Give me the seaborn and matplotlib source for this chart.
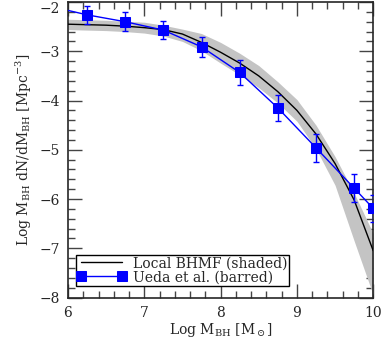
import numpy as np
import pandas as pd
import seaborn as sns
import matplotlib.pyplot as plt
from matplotlib.ticker import MultipleLocator

# local BHMF curve and its shaded uncertainty
mass_grid = [6.0, 6.25, 6.5, 6.75, 7.0, 7.25, 7.5, 7.75, 8.0, 8.25, 8.5, 8.75, 9.0, 9.25, 9.5, 9.75, 10.0]
local_phi = [-2.45, -2.46, -2.47, -2.49, -2.52, -2.56, -2.65, -2.82, -3.02, -3.24, -3.50, -3.82, -4.20, -4.68, -5.28, -6.02, -7.05]
local_hi = [-2.35, -2.36, -2.37, -2.39, -2.41, -2.47, -2.55, -2.64, -2.82, -3.04, -3.29, -3.62, -3.98, -4.50, -5.14, -5.88, -6.70]
local_lo = [-2.56, -2.57, -2.58, -2.60, -2.63, -2.69, -2.80, -2.99, -3.24, -3.48, -3.74, -4.05, -4.42, -4.98, -5.72, -6.85, -7.95]

# Ueda et al. points
ueda_mass = [5.75, 6.25, 6.75, 7.25, 7.75, 8.25, 8.75, 9.25, 9.75, 10.0]
ueda_phi = [-2.08, -2.26, -2.40, -2.57, -2.91, -3.43, -4.15, -4.96, -5.78, -6.19]
ueda_err = [0.18, 0.18, 0.19, 0.19, 0.21, 0.25, 0.27, 0.29, 0.29, 0.27]

local_df = pd.DataFrame({'mass': mass_grid, 'phi': local_phi})
ueda_df = pd.DataFrame({'mass': ueda_mass, 'phi': ueda_phi})

sns.set_style("ticks")
plt.rcParams['font.family'] = ['DejaVu Serif']
plt.rcParams['mathtext.fontset'] = 'dejavuserif'

fig = plt.figure(figsize=(3.82, 3.40), dpi=100)
ax = fig.add_axes([0.178, 0.125, 0.799, 0.869])

ax.fill_between(mass_grid, local_lo, local_hi, color='#c4c4c4', lw=0, zorder=1)
sns.lineplot(data=local_df, x='mass', y='phi', color='black', lw=1,
             ax=ax, label='Local BHMF (shaded)', zorder=3)
ax.errorbar(ueda_mass, ueda_phi, yerr=ueda_err, fmt='none', ecolor='blue',
            elinewidth=1, capsize=2, capthick=1, zorder=4)
sns.lineplot(data=ueda_df, x='mass', y='phi', color='blue', lw=1, marker='s',
             markersize=7, markeredgecolor='blue', ax=ax,
             label='Ueda et al. (barred)', zorder=5)

ax.set_xlim(6, 10)
ax.set_ylim(-8, -2)
ax.xaxis.set_major_locator(MultipleLocator(1))
ax.xaxis.set_minor_locator(MultipleLocator(0.2))
ax.yaxis.set_major_locator(MultipleLocator(1))
ax.yaxis.set_minor_locator(MultipleLocator(0.2))
ax.tick_params(which='both', direction='in', top=True, right=True, color='#444444', width=1)
ax.tick_params(which='major', length=10, labelsize=10, pad=6)
ax.tick_params(which='minor', length=5)
for s in ax.spines.values():
    s.set_linewidth(1.2)

# keep the top tick label inside the figure
fig.canvas.draw()
for lab in ax.get_yticklabels():
    if lab.get_text().replace('\u2212', '-') == '-2':
        lab.set_verticalalignment('top')

ax.set_xlabel(r'Log M$_{\rm BH}$ [M$_\odot$]', fontsize=10, labelpad=1)
ax.set_ylabel(r'Log M$_{\rm BH}$ dN/dM$_{\rm BH}$ [Mpc$^{-3}$]', fontsize=10, labelpad=4)

leg = ax.legend(loc='lower left', bbox_to_anchor=(0.026, 0.04), borderaxespad=0,
                fontsize=10, frameon=True, fancybox=False, edgecolor='black',
                framealpha=1, handlelength=3.5, numpoints=2, borderpad=0.1,
                labelspacing=0.0, handletextpad=0.5)
leg.get_frame().set_linewidth(1)

fig.savefig('out.png', dpi=100)
